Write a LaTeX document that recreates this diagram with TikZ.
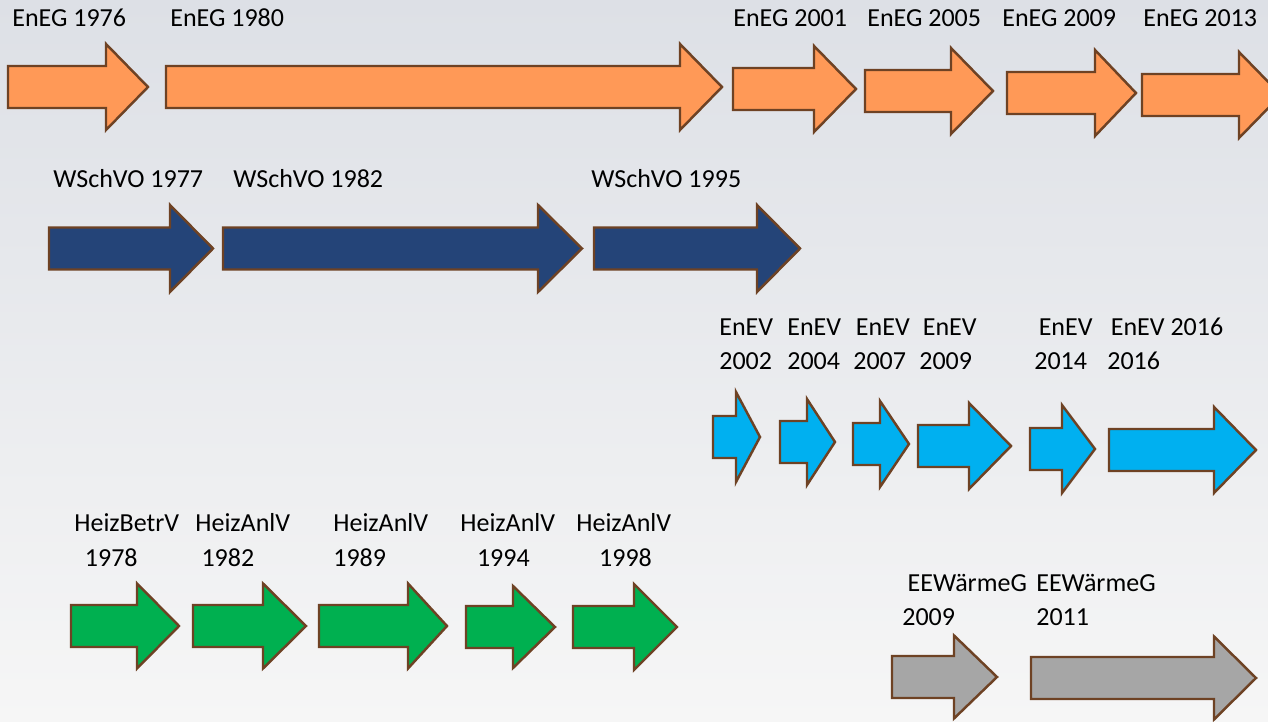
\documentclass[tikz,border=0pt]{standalone}
\usepackage{fontspec}
\setmainfont{Carlito}
\usetikzlibrary{positioning}
\usepackage{xcolor}
\definecolor{LawOrange}{RGB}{255,153,87}
\definecolor{LawNavy}{RGB}{36,68,120}
\definecolor{LawBlue}{RGB}{0,176,240}
\definecolor{LawGreen}{RGB}{0,176,80}
\definecolor{LawGray}{RGB}{166,166,166}
\definecolor{EdgeBrown}{RGB}{110,66,36}
\definecolor{BgTop}{RGB}{221,224,230}
\definecolor{BgBottom}{RGB}{246,246,246}

% block arrow: [head half width]{style}{name}{tail x}{head x}{tip x}{mid y}
\newcommand{\blockarrow}[7][43]{%
  \draw[#2] (#4,#7-21) -- (#5,#7-21) -- (#5,#7-#1) -- (#6,#7) -- (#5,#7+#1) -- (#5,#7+21) -- (#4,#7+21) -- cycle;
  \coordinate (#3) at (#4,#7);}

\begin{document}
\begin{tikzpicture}[
    x=0.02cm, y=-0.02cm,
    arrowbase/.style={draw=EdgeBrown, line width=1.4pt, line join=miter},
    orangearrow/.style={arrowbase, fill=LawOrange},
    navyarrow/.style={arrowbase, fill=LawNavy},
    bluearrow/.style={arrowbase, fill=LawBlue},
    greenarrow/.style={arrowbase, fill=LawGreen},
    grayarrow/.style={arrowbase, fill=LawGray},
    lbl/.style={anchor=west, inner sep=0pt, align=left, font=\fontsize{14.8}{19.6}\selectfont}
  ]
  % background
  \shade[top color=BgTop, bottom color=BgBottom] (0,0) rectangle (1268,722);
  \useasboundingbox (0,0) rectangle (1268,722);

  % EnEG
  \blockarrow{orangearrow}{eneg76}{8}{106}{148}{87}
  \blockarrow{orangearrow}{eneg80}{166}{680}{722}{87}
  \blockarrow{orangearrow}{eneg01}{733}{814}{856}{89}
  \blockarrow{orangearrow}{eneg05}{865}{951}{993}{91}
  \blockarrow{orangearrow}{eneg09}{1007}{1095}{1136}{93}
  \blockarrow{orangearrow}{eneg13}{1142}{1239}{1281}{95}
  \node (leneg76) [lbl] at (12,18) {EnEG 1976};
  \node (leneg80) [lbl] at (170,18) {EnEG 1980};
  \node (leneg01) [lbl] at (733,18) {EnEG 2001};
  \node (leneg05) [lbl] at (867,18) {EnEG 2005};
  \node (leneg09) [lbl] at (1002,18) {EnEG 2009};
  \node (leneg13) [lbl] at (1143,18) {EnEG 2013};

  % WSchVO
  \blockarrow[43.5]{navyarrow}{wsch77}{49}{170}{213}{248.5}
  \blockarrow[43.5]{navyarrow}{wsch82}{223}{538}{582}{248.5}
  \blockarrow[43.5]{navyarrow}{wsch95}{594}{757}{800}{248.5}
  \node (lwsch77) [lbl] at (53,179) {WSchVO 1977};
  \node (lwsch82) [lbl] at (233,179) {WSchVO 1982};
  \node (lwsch95) [lbl] at (591,179) {WSchVO 1995};

  % EnEV
  \blockarrow[45]{bluearrow}{enev02}{713}{736}{760}{437}
  \blockarrow[43]{bluearrow}{enev04}{780}{807}{835}{442}
  \blockarrow[43]{bluearrow}{enev07}{853}{880}{909}{444}
  \blockarrow[43]{bluearrow}{enev09}{918}{969}{1011}{446}
  \blockarrow[44]{bluearrow}{enev14}{1030}{1062}{1095}{449}
  \blockarrow[43]{bluearrow}{enev16}{1109}{1214}{1256}{450}
  \node (lenev02) [lbl] at (719,344) {EnEV\\2002};
  \node (lenev04) [lbl] at (787,344) {EnEV\\2004};
  \node (lenev07) [lbl] at (853,344) {\hspace*{1.5pt}EnEV\\2007};
  \node (lenev09) [lbl] at (919,344) {\hspace*{2pt}EnEV\\2009};
  \node (lenev14) [lbl] at (1034,344) {\hspace*{2.5pt}EnEV\\2014};
  \node (lenev16) [lbl] at (1107,344) {\hspace*{2pt}EnEV 2016\\2016};

  % HeizAnlV
  \blockarrow[42.5]{greenarrow}{heiz78}{71}{137}{179}{626}
  \blockarrow[42.5]{greenarrow}{heiz82}{193}{263}{306}{626}
  \blockarrow[42.5]{greenarrow}{heiz89}{319}{408}{447}{626}
  \blockarrow[41]{greenarrow}{heiz94}{466}{513}{555}{627}
  \blockarrow[43]{greenarrow}{heiz98}{573}{634}{677}{627}
  \node (lheiz78) [lbl] at (74,540) {HeizBetrV\\\hspace*{6pt}1978};
  \node (lheiz82) [lbl] at (195,540) {HeizAnlV\\\hspace*{3.5pt}1982};
  \node (lheiz89) [lbl] at (333,540) {HeizAnlV\\1989};
  \node (lheiz94) [lbl] at (460,540) {HeizAnlV\\\hspace*{9.5pt}1994};
  \node (lheiz98) [lbl] at (576,540) {HeizAnlV\\\hspace*{13pt}1998};

  % EEWaermeG
  \blockarrow[41.5]{grayarrow}{eew09}{892}{954}{997}{677}
  \blockarrow[41.5]{grayarrow}{eew11}{1031}{1214}{1256}{678}
  \node (leew09) [lbl] at (902,600) {\hspace*{3pt}EEWärmeG\\2009};
  \node (leew11) [lbl] at (1036,600) {EEWärmeG\\2011};
\end{tikzpicture}
\end{document}
